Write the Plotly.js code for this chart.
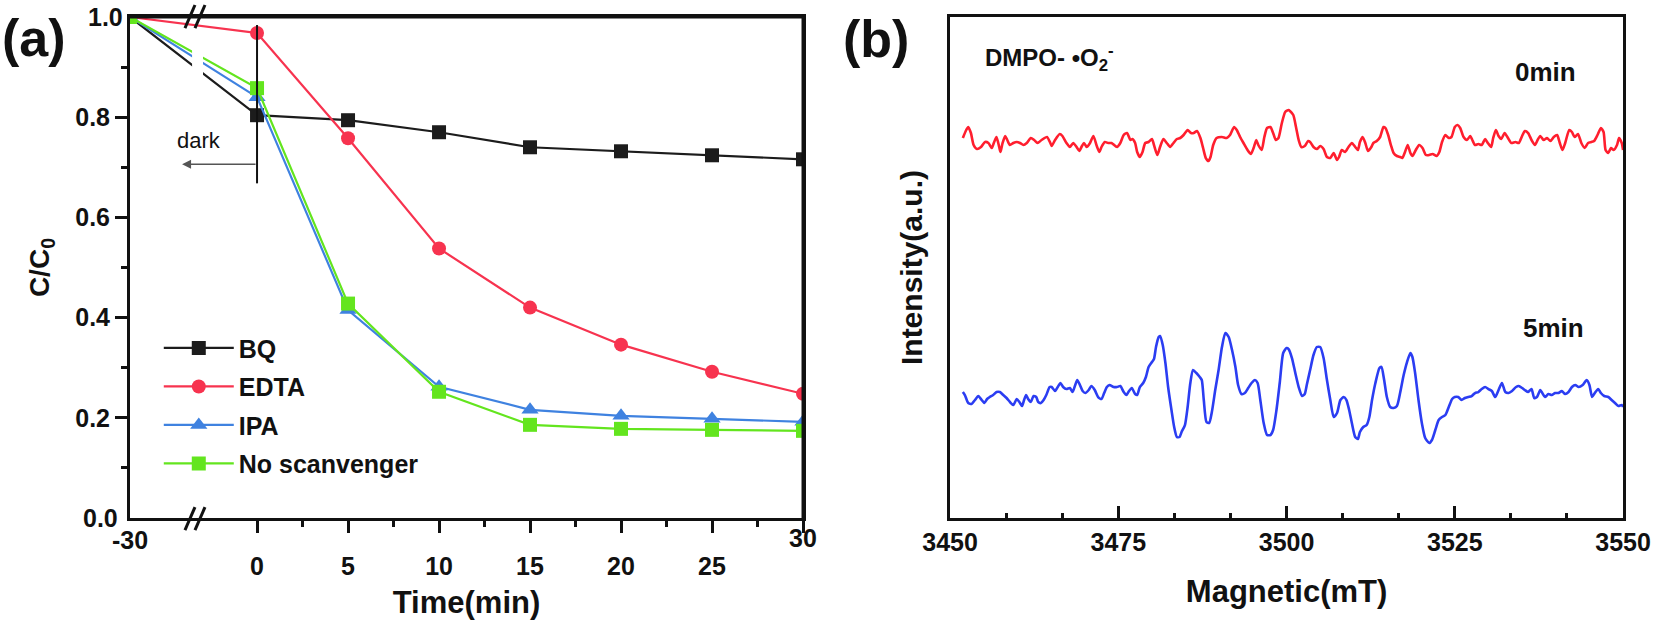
<!DOCTYPE html>
<html><head><meta charset="utf-8">
<script src="https://cdn.plot.ly/plotly-3.0.1.min.js"></script>
<style>html,body{margin:0;padding:0;background:#fff}#c{width:1654px;height:623px}</style>
</head><body><div id="c"></div><script>
// ---------- panel (a) data ----------
const time = [-30, 0, 5, 10, 15, 20, 25, 30];
const BQ = [1.0, 0.804, 0.794, 0.770, 0.740, 0.732, 0.724, 0.716];
const EDTA = [1.0, 0.968, 0.758, 0.538, 0.420, 0.346, 0.292, 0.248];
const IPA = [1.0, 0.840, 0.415, 0.262, 0.216, 0.204, 0.198, 0.192];
const NoScav = [1.0, 0.858, 0.428, 0.252, 0.186, 0.178, 0.176, 0.174];
const seriesNames = ['BQ', 'EDTA', 'IPA', 'No scanvenger'];
const timeTickVals = [0, 5, 10, 15, 20, 25, 30];
const timeTickText = ['0', '5', '10', '15', '20', '25', ''];
const timeMinor = [2.5, 7.5, 12.5, 17.5, 22.5, 27.5];
const cTickVals = [0.2, 0.4, 0.6, 0.8];
const cTickText = ['0.2', '0.4', '0.6', '0.8'];
const cMinor = [0.1, 0.3, 0.5, 0.7, 0.9];

// ---------- panel (b) data ----------
const field0 = [
3451.9,3452.4,3452.7,3453.1,3453.5,3454.0,3454.6,3455.2,3455.7,3456.2,
3456.5,3456.9,3457.3,3457.5,3457.8,3458.2,3458.5,3458.9,3459.4,3459.9,
3460.4,3460.9,3461.4,3462.0,3462.5,3463.0,3463.6,3464.4,3464.9,3465.1,
3465.6,3466.3,3466.7,3467.3,3467.8,3468.3,3468.8,3469.2,3469.6,3469.9,
3470.3,3470.8,3471.3,3471.8,3472.2,3472.5,3473.0,3473.5,3474.0,3474.8,
3475.3,3475.8,3476.3,3476.8,3477.1,3477.5,3477.8,3478.2,3478.6,3479.0,
3479.5,3480.0,3480.3,3480.8,3481.2,3481.7,3482.2,3482.7,3483.2,3483.7,
3484.2,3484.7,3485.3,3485.8,3486.2,3486.7,3487.2,3487.6,3488.0,3488.4,
3488.7,3489.1,3489.6,3490.4,3491.1,3491.6,3492.2,3492.6,3493.1,3493.6,
3494.2,3494.7,3495.1,3495.5,3495.8,3496.3,3496.7,3497.1,3497.6,3498.0,
3498.4,3498.8,3499.3,3499.8,3500.3,
3500.5,3501.0,3501.4,3501.8,3502.2,3502.7,3503.2,3503.5,3504.0,3504.5,
3505.0,3505.5,3506.0,3506.5,3507.0,3507.5,3507.8,3508.2,3508.7,3509.2,
3509.7,3510.2,3510.6,3510.9,3511.3,3511.7,3512.1,3512.6,3512.9,3513.4,
3513.9,3514.4,3514.7,3515.1,3515.5,3515.9,3516.4,3516.9,3517.2,3517.6,
3518.0,3518.4,3518.7,3519.2,3519.7,3520.2,3520.7,3521.2,3521.7,3522.3,
3522.7,3523.1,3523.6,3524.1,3524.5,3525.0,3525.4,3525.8,3526.3,3526.8,
3527.3,3527.6,3528.0,3528.5,3529.0,3529.5,3529.9,3530.4,3530.7,3531.1,
3531.5,3531.9,3532.4,3532.9,3533.4,3534.0,3534.5,3535.0,3535.4,3535.9,
3536.4,3536.9,3537.3,3537.7,3538.2,3538.7,3539.2,3539.7,3540.2,3540.6,
3541.0,3541.4,3542.0,3542.4,3542.8,3543.3,3543.8,3544.3,3544.8,3545.3,
3545.7,3546.2,3546.7,3547.1,3547.4,3547.8,3548.2,3548.6,3549.1,3549.4,
3549.8,3550.0];
const int0 = [
380,388,391,385,373,369,371,376,375,370,
375,381,371,366,375,382,378,373,375,376,
375,373,375,380,378,375,378,381,375,372,
378,384,382,375,371,375,371,367,372,375,
371,375,382,372,366,371,376,375,375,371,
375,383,385,378,379,375,366,361,366,375,
376,379,373,363,371,379,375,371,375,379,
380,383,388,385,385,387,380,370,360,357,
361,373,380,381,380,383,391,388,381,375,
368,364,370,378,373,368,381,390,391,385,
378,380,395,406,408,
407,403,391,378,371,372,377,376,371,369,
372,369,361,360,365,358,361,368,366,371,
375,371,368,376,381,375,367,371,375,377,
381,391,390,383,373,365,362,361,360,366,
373,365,362,368,373,370,363,363,364,362,
366,376,383,380,381,391,393,390,381,378,
382,378,373,374,373,379,375,371,380,388,
382,379,385,380,375,376,375,382,387,385,
378,373,378,382,378,380,377,381,383,375,
368,375,388,386,381,384,375,370,375,376,
377,383,390,386,368,365,370,368,373,380,
375,368];
const field5 = [
3451.9,3452.2,3452.7,3453.2,3453.7,3454.2,3454.7,3455.1,3455.5,3455.9,
3456.4,3456.9,3457.4,3457.9,3458.4,3458.9,3459.4,3459.9,3460.3,3460.7,
3461.0,3461.3,3461.6,3462.0,3462.4,3462.8,3463.1,3463.5,3463.9,3464.3,
3464.8,3465.1,3465.6,3466.0,3466.4,3466.8,3467.3,3467.8,3468.2,3468.6,
3468.9,3469.3,3469.7,3470.1,3470.6,3471.0,3471.5,3472.0,3472.5,3472.9,
3473.3,3473.7,3474.3,3474.8,3475.3,3475.8,3476.2,3476.5,3477.0,3477.5,
3477.8,3478.2,3478.7,3479.1,3479.5,3480.0,3480.3,3480.6,3481.0,3481.2,
3481.6,3482.0,3482.4,3482.9,3483.3,3483.7,3484.1,3484.4,3484.9,3485.3,
3485.7,3486.1,3486.6,3487.1,3487.4,3487.7,3488.1,3488.5,3488.9,3489.4,
3489.9,3490.4,3490.9,3491.4,3491.9,3492.4,3492.8,3493.3,3493.8,3494.3,
3494.8,3495.3,3495.7,3496.1,3496.6,3497.1,3497.6,3498.0,3498.5,3499.0,
3499.5,3500.0,
3500.3,3500.8,3501.3,3501.8,3502.3,3502.7,3503.0,3503.5,3504.0,3504.5,
3505.0,3505.5,3506.0,3506.5,3507.0,3507.5,3508.0,3508.5,3508.9,3509.3,
3509.7,3510.2,3510.6,3510.9,3511.4,3511.9,3512.3,3512.7,3513.2,3513.8,
3514.1,3514.5,3514.9,3515.4,3515.9,3516.4,3516.9,3517.4,3517.9,3518.4,
3518.7,3519.1,3519.6,3520.1,3520.6,3521.2,3521.6,3522.1,3522.6,3523.1,
3523.6,3524.1,3524.6,3525.0,3525.5,3526.0,3526.5,3527.0,3527.5,3528.0,
3528.5,3529.0,3529.5,3530.0,3530.5,3531.0,3531.5,3532.0,3532.5,3533.0,
3533.5,3534.1,3534.5,3535.0,3535.4,3535.9,3536.4,3536.8,3537.2,3537.7,
3538.0,3538.4,3538.9,3539.4,3539.9,3540.4,3540.9,3541.4,3541.9,3542.4,
3542.9,3543.4,3544.0,3544.6,3545.0,3545.4,3545.8,3546.3,3546.7,3547.2,
3547.8,3548.3,3548.8,3549.3,3549.8,3550.0];
const int5 = [
126,123,115,114,118,122,118,115,119,121,
123,126,126,123,120,116,113,119,116,112,
118,123,119,116,122,121,116,115,118,123,
131,131,127,131,135,131,129,130,126,133,
138,133,127,125,128,132,128,121,119,125,
131,133,131,131,132,126,123,126,130,124,
123,131,135,141,151,156,159,171,181,182,
173,155,131,108,91,81,81,86,93,111,
135,148,145,141,138,118,96,95,106,128,
148,171,185,181,168,151,133,124,125,130,
135,138,135,118,95,83,83,88,108,136,
165,170,
169,160,145,131,122,124,133,148,163,171,
171,160,138,118,101,105,118,121,118,108,
95,81,79,86,91,93,101,118,135,150,
151,138,121,111,110,112,126,143,156,165,
161,145,118,95,80,75,78,88,98,101,
103,111,119,121,121,118,120,121,122,125,
126,129,131,129,127,121,128,135,126,125,
127,131,132,130,128,126,129,120,121,128,
125,121,124,123,125,125,127,124,126,131,
133,131,133,138,133,121,125,129,125,122,
121,118,115,112,113,111];
const fieldTicks = [3450, 3475, 3500, 3525, 3550];

// ---------- helpers ----------
const brk = 6.98 / 30;               // compressed scale for the broken segment (-30..0)
const tx = t => (t < 0 ? t * brk : t);
const F = 'Arial, "Liberation Sans", sans-serif';
const bold = (s) => ({family: F, size: s, color: '#111', weight: 'bold'});

const colA = ['#1c1c1c', '#f7334f', '#3f82e0', '#63e51e'];
const symA = ['square', 'circle', 'triangle-up', 'square'];
const ys = [BQ, EDTA, IPA, NoScav];
const traces = ys.map((y, i) => ({
  x: time.map(tx), y: y, type: 'scatter', mode: 'lines+markers',
  name: seriesNames[i], legendgroup: 'g' + i,
  line: {color: colA[i], width: 2.2},
  marker: {color: colA[i], symbol: symA[i], size: i === 2 ? 15 : 14},
  xaxis: 'x', yaxis: 'y'
}));
traces.push({x: field0, y: int0, type: 'scatter', mode: 'lines', line: {color: '#ff1e2e', width: 2.6, shape: 'spline', smoothing: 0.6}, showlegend: false, xaxis: 'x2', yaxis: 'y2'});
traces.push({x: field5, y: int5, type: 'scatter', mode: 'lines', line: {color: '#2b3df2', width: 2.6, shape: 'spline', smoothing: 0.6}, showlegend: false, xaxis: 'x2', yaxis: 'y2'});

const axLine = {showline: true, linewidth: 3, linecolor: '#111', mirror: true, showgrid: false, zeroline: false, fixedrange: true};
const dA = [0.0786, 0.4855], dB = [0.5744, 0.9813], dY = [0.1685, 0.9727];

const ann = (text, x, y, font, extra) => Object.assign({text: text, xref: 'paper', yref: 'paper', x: x, y: y,
  xanchor: 'center', yanchor: 'middle', showarrow: false, font: font}, extra || {});
const border = (x0, x1, y0, y1) => ({type: 'line', xref: 'x domain', yref: 'y domain', x0: x0, x1: x1, y0: y0, y1: y1,
  line: {color: '#111', width: 3}, layer: 'above'});

const layout = {
  width: 1654, height: 623, margin: {l: 0, r: 0, t: 0, b: 0},
  paper_bgcolor: '#fff', plot_bgcolor: '#fff', showlegend: true,
  font: {family: F, color: '#111'},
  xaxis: Object.assign({}, axLine, {
    domain: dA, anchor: 'y', range: [tx(-30), 30],
    tickmode: 'array', tickvals: timeTickVals, ticktext: timeTickText,
    ticks: 'outside', ticklen: 12, tickwidth: 3, tickcolor: '#111',
    tickfont: bold(25), ticklabelstandoff: 12,
    minor: {tickmode: 'array', tickvals: timeMinor, ticks: 'outside', ticklen: 6, tickwidth: 3, tickcolor: '#111'},
    title: {text: 'Time(min)', font: bold(31), standoff: 13}
  }),
  yaxis: Object.assign({}, axLine, {
    domain: dY, anchor: 'x', range: [0, 1.0],
    tickmode: 'array', tickvals: cTickVals, ticktext: cTickText,
    ticks: 'outside', ticklen: 12, tickwidth: 3, tickcolor: '#111',
    tickfont: bold(25),
    minor: {tickmode: 'array', tickvals: cMinor, ticks: 'outside', ticklen: 6, tickwidth: 3, tickcolor: '#111'},
    title: {text: 'C/C<sub>0</sub>', font: bold(28), standoff: 18}
  }),
  xaxis2: Object.assign({}, axLine, {
    domain: dB, anchor: 'y2', range: [3450, 3550],
    tickmode: 'array', tickvals: fieldTicks,
    ticks: 'inside', ticklen: 12, tickwidth: 3, tickcolor: '#111',
    tickfont: bold(25), ticklabelstandoff: 0,
    minor: {dtick: 25 / 3, tick0: 3450, ticks: 'inside', ticklen: 5, tickwidth: 3, tickcolor: '#111'},
    title: {text: 'Magnetic(mT)', font: bold(31), standoff: 26}
  }),
  yaxis2: Object.assign({}, axLine, {
    domain: dY, anchor: 'x2', range: [0, 501],
    showticklabels: false, ticks: '',
    title: {text: 'Intensity(a.u.)', font: bold(30), standoff: 16}
  }),
  legend: {x: 0.096, y: 0.478, xanchor: 'left', yanchor: 'top', font: bold(25), itemwidth: 70,
           tracegroupgap: 3, bgcolor: 'rgba(0,0,0,0)', borderwidth: 0},
  shapes: [
    {type: 'rect', xref: 'x', yref: 'y', x0: -3.57, x1: -2.97, y0: 0.85, y1: 0.95, fillcolor: '#fff', line: {width: 0}, layer: 'above'},
    {type: 'line', xref: 'x', yref: 'paper', x0: -3.96, x1: -3.41, y0: 0.955, y1: 0.992, line: {color: '#111', width: 3}},
    {type: 'line', xref: 'x', yref: 'paper', x0: -3.41, x1: -2.86, y0: 0.955, y1: 0.992, line: {color: '#111', width: 3}},
    {type: 'line', xref: 'x', yref: 'paper', x0: -3.96, x1: -3.41, y0: 0.149, y1: 0.186, line: {color: '#111', width: 3}},
    {type: 'line', xref: 'x', yref: 'paper', x0: -3.41, x1: -2.86, y0: 0.149, y1: 0.186, line: {color: '#111', width: 3}},
    {type: 'line', xref: 'x', yref: 'y', x0: 0, x1: 0, y0: 0.668, y1: 0.984, line: {color: '#111', width: 2}},
    border(0, 1, 1, 1),
    border(1, 1, 0, 1)
  ],
  annotations: [
    ann('(a)', 0.0206, 0.939, bold(52)),
    ann('(b)', 0.5296, 0.937, bold(52)),
    ann('-30', 0.0786, 0.1332, bold(25)),
    ann('30', 0.4855, 0.1364, bold(25)),
    ann('1.0', 0.0756, 0.9727, bold(25), {xanchor: 'right'}),
    ann('0.0', 0.0726, 0.1685, bold(25), {xanchor: 'right'}),
    {text: 'dark', xref: 'x', yref: 'y', x: -3.2, y: 0.754, xanchor: 'center', yanchor: 'middle', showarrow: false, font: {family: F, size: 22, color: '#111'}},
    {text: '', xref: 'x', yref: 'y', axref: 'x', ayref: 'y', x: -4.12, y: 0.706, ax: 0, ay: 0.706,
     showarrow: true, arrowhead: 2, arrowsize: 1.2, arrowwidth: 1.5, arrowcolor: '#555'},
    ann('DMPO- •O<sub>2</sub><sup>-</sup>', 0.5943, 0.9069, bold(24), {xanchor: 'left'}),
    ann('0min', 0.9347, 0.8844, bold(26)),
    ann('5min', 0.939, 0.4735, bold(26))
  ]
};

Plotly.newPlot('c', traces, layout, {displayModeBar: false, staticPlot: true});
</script></body></html>
